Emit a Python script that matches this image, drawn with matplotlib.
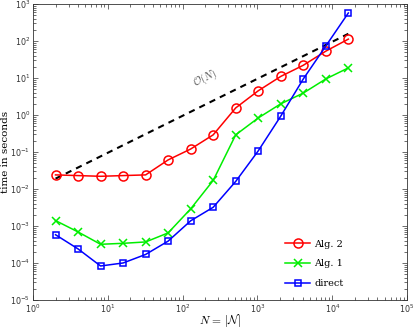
import matplotlib
matplotlib.use("Agg")
from matplotlib import pyplot as plt

plt.rcParams["mathtext.fontset"] = "cm"

N = [2, 4, 8, 16, 32, 64, 128, 256, 512, 1024, 2048, 4096, 8192, 16384]
alg2 = [0.024, 0.023, 0.022, 0.023, 0.024, 0.061, 0.12, 0.29, 1.55, 4.5, 11, 22, 53, 112]
alg1 = [1.4e-3, 6.9e-4, 3.2e-4, 3.4e-4, 3.7e-4, 6.5e-4, 2.9e-3, 0.017, 0.29, 0.83, 2.0, 3.9, 9.4, 18.7]
direct = [5.8e-4, 2.4e-4, 8.3e-5, 1.0e-4, 1.7e-4, 3.9e-4, 1.38e-3, 3.2e-3, 0.016, 0.107, 0.93, 9.4, 73, 570]
ref_N = [2, 16384]
ref_t = [0.019, 156]

fig = plt.figure(figsize=(4.15, 3.28), dpi=100)
ax = fig.add_axes([0.0795, 0.0854, 0.9015, 0.9026])

ax.plot(ref_N, ref_t, "k--", lw=1.5, dashes=(3, 2.5))
ax.plot(N, alg2, "-o", color="red", lw=1.1, ms=6.5, mfc="none", mew=1.1, label="Alg. 2")
ax.plot(N, alg1, "-x", color="#00ee00", lw=1.1, ms=5.5, mew=1.1, label="Alg. 1")
ax.plot(N, direct, "-s", color="blue", lw=1.1, ms=5, mfc="none", mew=1.1, label="direct")

ax.text(200, 9.5, r"$\mathcal{O}(N)$", rotation=26, ha="center", va="center", fontsize=7.5, color="#555555")

ax.set_xscale("log")
ax.set_yscale("log")
ax.set_xlim(1, 1e5)
ax.set_ylim(1e-5, 1e3)
ax.tick_params(which="both", direction="in", top=True, right=True, labelsize=5.8,
               colors="#333333", pad=2)
ax.tick_params(which="major", length=3.5, width=0.5)
ax.tick_params(which="minor", length=2, width=0.5)
for s in ax.spines.values():
    s.set_color("#333333")
    s.set_linewidth(0.6)

ax.set_xlabel(r"$N\,=\,|\mathcal{N}|$", fontsize=8.3, labelpad=-2)
ax.set_ylabel("time in seconds", family="serif", fontsize=7.5, labelpad=0)

ax.legend(loc="lower left", frameon=False, prop={"family": "serif", "size": 7},
          handlelength=2.6, handletextpad=0.4, labelspacing=1.1, borderpad=0,
          borderaxespad=0, bbox_to_anchor=(0.674, 0.04))

fig.savefig("out.png", dpi=100)
